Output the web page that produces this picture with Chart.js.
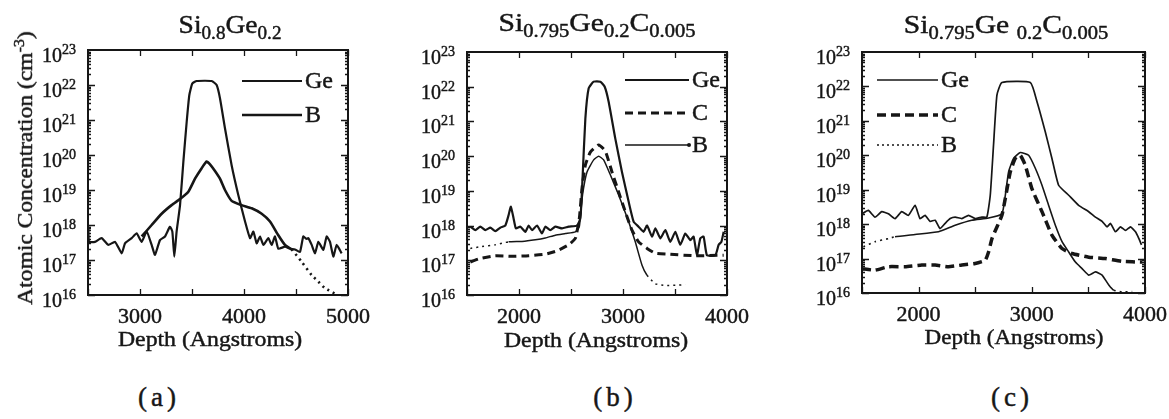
<!DOCTYPE html>
<html>
<head>
<meta charset="utf-8">
<script src="https://cdn.jsdelivr.net/npm/chart.js@4.4.1/dist/chart.umd.min.js"></script>
<style>
  body { margin: 0; background: #fff; width: 1169px; height: 419px; position: relative; overflow: hidden;
         font-family: 'Liberation Serif', 'Times New Roman', serif; color: #161616; }
  canvas { position: absolute; top: 0; }
  .lbl { position: absolute; white-space: nowrap; line-height: 1; -webkit-text-stroke: 0.45px #161616; }
  .title { font-size: 26px; }
  .title sub { font-size: 18px; vertical-align: -6px; line-height: 0; }
  .xt { font-size: 22px; }
  .panel { font-size: 27px; letter-spacing: 4px; }
  .yt { font-size: 22px; }
  .yt sup { font-size: 15px; vertical-align: 8px; line-height: 0; }
</style>
</head>
<body>
<canvas id="chartA" width="380" height="330" style="left:0px"></canvas>
<canvas id="chartB" width="370" height="330" style="left:390px"></canvas>
<canvas id="chartC" width="399" height="330" style="left:770px"></canvas>

<div class="lbl title" style="left:230px;top:12px;transform:translateX(-50%) scaleX(1.06)">Si<sub>0.8</sub>Ge<sub>0.2</sub></div>
<div class="lbl title" style="left:597px;top:10px;transform:translateX(-50%) scaleX(1.14)">Si<sub>0.795</sub>Ge<sub>0.2</sub>C<sub>0.005</sub></div>
<div class="lbl title" style="left:1006px;top:12px;transform:translateX(-50%) scaleX(1.14)">Si<sub>0.795</sub>Ge <sub>0.2</sub>C<sub>0.005</sub></div>

<div class="lbl yt" style="left:25px;top:168px;transform:translate(-50%,-50%) rotate(-90deg) scaleX(1.07)">Atomic Concentration (cm<sup>-3</sup>)</div>

<div class="lbl xt" style="left:210px;top:328px;transform:translateX(-50%) scaleX(1.08)">Depth (Angstroms)</div>
<div class="lbl xt" style="left:596px;top:329px;transform:translateX(-50%) scaleX(1.08)">Depth (Angstroms)</div>
<div class="lbl xt" style="left:1014px;top:326px;transform:translateX(-50%) scaleX(1.05)">Depth (Angstroms)</div>

<div class="lbl panel" style="left:159px;top:384px;transform:translateX(-50%)">(a)</div>
<div class="lbl panel" style="left:615px;top:384px;transform:translateX(-50%)">(b)</div>
<div class="lbl panel" style="left:1012px;top:384px;transform:translateX(-50%)">(c)</div>

<script>
// SIMS depth profiles, depth in Angstroms, concentration in atoms/cm^3

// (a) Si0.8Ge0.2
const depthA_Ge = [2503, 2510, 2567, 2631, 2695, 2760, 2824, 2856, 2920, 2968, 3016, 3064, 3112, 3144, 3192, 3240, 3288, 3311, 3330, 3352,
                   3385, 3417, 3449, 3474, 3503, 3545, 3689, 3737, 3769, 3817, 3881, 3945, 4010, 4058, 4090, 4122, 4154, 4186, 4234, 4266,
                   4298, 4330, 4394, 4442, 4490, 4538, 4570, 4600, 4619, 4651, 4683, 4715, 4763, 4795, 4827, 4859, 4891, 4939];
const concA_Ge = [8.9e17, 3.3e17, 3.3e17, 4.2e17, 2.7e17, 3.3e17, 1.55e17, 3.0e17, 4.2e17, 5.8e17, 3.3e17, 6.5e17, 2.7e17, 1.4e17, 3.7e17, 4.7e17, 8.9e17, 6.5e17, 1.25e17, 6.5e17,
                  3.7e18, 6.5e19, 8.9e20, 5.1e21, 1.1e22, 1.3e22, 1.3e22, 1.0e22, 4.2e21, 5.8e20, 5.1e19, 7.2e18, 1.26e18, 4.2e17, 6.5e17, 3.0e17, 4.7e17, 2.7e17, 4.2e17, 2.7e17,
                  4.7e17, 2.1e17, 2.4e17, 2.1e17, 2.0e17, 1.7e17, 4.7e17, 4.0e17, 4.2e17, 2.7e17, 1.55e17, 3.3e17, 1.95e17, 4.7e17, 3.3e17, 1.25e17, 2.7e17, 1.55e17];
const depthA_B = [3016, 3112, 3208, 3304, 3385, 3465, 3529, 3593, 3641, 3673, 3721, 3769, 3817, 3881, 3977, 4074, 4170, 4250, 4330, 4394,
                  4458, 4554, 4651, 4715, 4779, 4830, 4870];
const concA_B = [4.7e17, 1.0e18, 2.1e18, 3.7e18, 5.5e18, 8.9e18, 2.1e19, 4.2e19, 6.5e19, 5.4e19, 3.5e19, 2.1e19, 1.0e19, 4.9e18, 3.7e18, 3.0e18, 2.1e18, 1.26e18, 5.1e17, 2.7e17,
                 2.0e17, 8.9e16, 3.7e16, 2.4e16, 1.55e16, 1.3e16, 1.1e16];
const ticksA = [3000, 4000, 5000];

// (b) Si0.795Ge0.2C0.005
const depthB_Ge = [1532, 1580, 1628, 1676, 1724, 1772, 1820, 1868, 1900, 1922, 1948, 1970, 2013, 2061, 2093, 2125, 2173, 2221, 2253, 2301,
                   2349, 2414, 2478, 2558, 2590, 2611, 2638, 2670, 2718, 2782, 2824, 2862, 2926, 2990, 3054, 3102, 3150, 3198, 3231, 3279,
                   3311, 3359, 3407, 3455, 3503, 3551, 3599, 3647, 3679, 3711, 3743, 3775, 3807, 3888, 3920, 3946, 3968];
const concB_Ge = [9.3e17, 7.4e17, 9.3e17, 7.4e17, 8.7e17, 6.9e17, 8.7e17, 1.0e18, 2.0e18, 3.5e18, 1.6e18, 8.3e17, 9.3e17, 6.6e17, 1.0e18, 7.4e17, 1.0e18, 5.9e17, 9.3e17, 7.4e17,
                  9.3e17, 8.3e17, 9.3e17, 1.0e18, 1.6e18, 2.3e19, 1.2e21, 9.0e21, 1.4e22, 1.4e22, 1.0e22, 3.7e21, 3.2e20, 3.5e19, 4.9e18, 1.3e18, 9.3e17, 6.6e17, 1.0e18, 4.8e17,
                  8.3e17, 4.3e17, 7.4e17, 3.4e17, 6.6e17, 2.8e17, 5.9e17, 3.8e17, 4.8e17, 1.4e17, 4.3e17, 4.8e17, 1.4e17, 1.4e17, 2.8e17, 3.4e17, 6.6e17];
const depthB_C = [1532, 1612, 1772, 1933, 2093, 2253, 2349, 2414, 2478, 2542, 2580, 2606, 2638, 2686, 2766, 2830, 2894, 2958, 3022, 3086,
                  3150, 3231, 3311, 3439, 3695, 3968];
const concB_C = [8.9e16, 1.1e17, 1.35e17, 1.3e17, 1.35e17, 1.5e17, 1.8e17, 2.2e17, 2.8e17, 4.3e17, 1.6e18, 1.2e19, 5.5e19, 1.3e20, 2.1e20, 1.4e20, 3.5e19, 9.3e18, 2.5e18, 7.4e17,
                 3.4e17, 2.2e17, 1.6e17, 1.5e17, 1.35e17, 1.4e17];
const depthB_B = [1532, 1644, 1772, 1900, 2029, 2157, 2253, 2349, 2446, 2542, 2580, 2611, 2654, 2718, 2766, 2814, 2878, 2958, 3054, 3118,
                  3183, 3231, 3311, 3407, 3503, 3599];
const concB_B = [2.2e17, 2.5e17, 2.8e17, 3.4e17, 3.5e17, 3.9e17, 4.4e17, 5.3e17, 5.9e17, 6.6e17, 9.3e17, 7.6e18, 3.5e19, 7.8e19, 1.0e20, 7.8e19, 2.9e19, 7.6e18, 1.3e18, 3.4e17,
                 7.2e16, 3.7e16, 2.1e16, 1.9e16, 1.9e16, 2.0e16];
const ticksB = [2000, 3000, 4000];

// (c) Si0.795Ge0.2C0.005
const depthC_Ge = [1500, 1556, 1615, 1674, 1733, 1792, 1851, 1910, 1969, 2013, 2057, 2102, 2146, 2190, 2234, 2279, 2323, 2382, 2441, 2500,
                   2559, 2603, 2633, 2662, 2692, 2736, 2987, 3046, 3119, 3178, 3237, 3326, 3414, 3503, 3562, 3621, 3665, 3695, 3739, 3783,
                   3828, 3872, 3916, 3946, 3969];
const concC_Ge = [2.0e18, 2.5e18, 1.6e18, 2.3e18, 2.0e18, 1.45e18, 2.3e18, 1.8e18, 3.5e18, 1.45e18, 1.8e18, 1.2e18, 1.3e18, 7.4e17, 1.05e18, 1.45e18, 1.6e18, 1.45e18, 1.8e18, 1.45e18,
                  1.6e18, 1.6e18, 6.9e18, 2.0e20, 5.6e21, 1.3e22, 1.3e22, 3.6e21, 4.8e20, 8.1e19, 1.35e19, 6.9e18, 3.5e18, 2.3e18, 1.6e18, 1.2e18, 8.3e17, 1.05e18, 6.0e17, 8.3e17,
                  6.6e17, 8.3e17, 6.0e17, 3.8e17, 2.5e17];
const depthC_C = [1500, 1615, 1733, 1880, 2028, 2146, 2264, 2382, 2500, 2588, 2618, 2648, 2692, 2736, 2766, 2810, 2854, 2898, 2942, 3001,
                  3090, 3178, 3267, 3355, 3503, 3650, 3798, 3975];
const concC_C = [5.1e16, 4.6e16, 5.8e16, 5.8e16, 6.5e16, 6.5e16, 5.8e16, 6.5e16, 7.2e16, 8.9e16, 1.55e17, 3.8e17, 8.3e17, 1.8e18, 5.6e18, 3.3e19, 8.1e19, 1.0e20, 5.2e19, 1.07e19,
                 2.3e18, 4.8e17, 1.95e17, 1.4e17, 1.1e17, 1.0e17, 8.3e16, 7.9e16];
const depthC_B = [1512, 1615, 1733, 1792, 1969, 2176, 2323, 2470, 2618, 2736, 2766, 2795, 2839, 2898, 2972, 3031, 3090, 3149, 3208, 3267,
                  3326, 3385, 3444, 3503, 3562, 3621, 3680, 3724, 3798, 3887];
const concC_B = [2.2e17, 3.1e17, 3.8e17, 4.3e17, 5.0e17, 6.0e17, 9.3e17, 1.3e18, 1.5e18, 2.0e18, 6.9e18, 3.3e19, 8.1e19, 1.2e20, 1.0e20, 4.2e19, 1.35e19, 3.5e18, 9.3e17, 3.1e17,
                 1.55e17, 7.9e16, 5.1e16, 3.3e16, 4.1e16, 3.3e16, 1.7e16, 1.2e16, 1.07e16, 1.1e16];
const ticksC = [2000, 3000, 4000];

const decades = [1e16, 1e17, 1e18, 1e19, 1e20, 1e21, 1e22, 1e23];

const INK = '#161616';
const FONT = '"Liberation Serif", "Times New Roman", serif';

const toPoints = (xs, ys) => xs.map((x, i) => ({ x, y: ys[i] }));

// dotted where the profile runs outside [from, to]
const dottedOutside = (from, to) => ({
  borderDash: c => (c.p0.parsed.x < from || c.p1.parsed.x > to) ? [2, 4] : undefined
});

// slightly heavier glyphs, like the printed figure
function inkText(ctx, text, x, y) {
  ctx.fillText(text, x, y);
  ctx.lineWidth = 0.45;
  ctx.strokeText(text, x, y);
}

// boxed frame with inward ticks, 10^n labels on the left and depth labels below
const frameTicks = {
  id: 'frameTicks',
  afterDatasetsDraw(chart) {
    const { ctx, chartArea: a } = chart;
    const x = chart.scales.x, y = chart.scales.y;
    ctx.save();
    ctx.strokeStyle = INK;
    ctx.lineWidth = 2;
    ctx.strokeRect(a.left, a.top, a.right - a.left, a.bottom - a.top);

    ctx.lineWidth = 1.3;
    ctx.beginPath();
    for (let v = x.min; v <= x.max + 1; v += 500) {
      const px = Math.round(x.getPixelForValue(v)) + 0.5;
      ctx.moveTo(px, a.top); ctx.lineTo(px, a.top + 6);
      ctx.moveTo(px, a.bottom); ctx.lineTo(px, a.bottom - 6);
    }
    decades.slice(0, -1).forEach(d => {
      for (let m = 1; m < 10; m++) {
        const py = Math.round(y.getPixelForValue(d * m)) + 0.5;
        const len = m === 1 ? 7 : 3;
        ctx.moveTo(a.left, py); ctx.lineTo(a.left + len, py);
        ctx.moveTo(a.right, py); ctx.lineTo(a.right - len, py);
      }
    });
    ctx.stroke();

    ctx.fillStyle = INK;
    ctx.textBaseline = 'alphabetic';
    decades.forEach(d => {
      const py = y.getPixelForValue(d);
      ctx.font = '20px ' + FONT;
      ctx.textAlign = 'right';
      inkText(ctx, '10', a.left - 26, py + 12);
      ctx.font = '14px ' + FONT;
      ctx.textAlign = 'left';
      inkText(ctx, String(Math.round(Math.log10(d))), a.left - 26, py + 4);
    });

    ctx.font = '22px ' + FONT;
    ctx.textAlign = 'center';
    x.ticks.forEach(t => {
      inkText(ctx, String(t.value), x.getPixelForValue(t.value), a.bottom + 28);
    });
    ctx.restore();
  }
};

// legend drawn inside the plot box
const inlineLegend = {
  id: 'inlineLegend',
  afterDatasetsDraw(chart, args, o) {
    if (!o.items) return;
    const ctx = chart.ctx;
    ctx.save();
    ctx.strokeStyle = INK;
    ctx.fillStyle = INK;
    o.items.forEach(it => {
      const ds = chart.data.datasets[it.ds];
      ctx.lineWidth = it.width || ds.borderWidth;
      ctx.setLineDash(it.dash || []);
      ctx.beginPath();
      ctx.moveTo(o.x0, it.y);
      ctx.lineTo(o.x1, it.y);
      ctx.stroke();
      ctx.setLineDash([]);
      if (it.dot) {
        ctx.beginPath();
        ctx.arc(o.x1, it.y, 2, 0, Math.PI * 2);
        ctx.fill();
      }
      ctx.font = '24px ' + FONT;
      ctx.textAlign = 'left';
      ctx.textBaseline = 'middle';
      inkText(ctx, ds.label, o.x1 + 3, it.y + 1);
    });
    ctx.restore();
  }
};

function makePanel(id, cfg) {
  new Chart(document.getElementById(id), {
    type: 'line',
    data: { datasets: cfg.datasets },
    options: {
      responsive: false,
      animation: false,
      devicePixelRatio: 1,
      layout: { padding: { top: cfg.top, right: cfg.right, left: 0, bottom: 0 } },
      elements: { point: { radius: 0 }, line: { borderColor: INK, fill: false, tension: 0.15 } },
      plugins: {
        legend: { display: false },
        tooltip: { enabled: false },
        inlineLegend: cfg.legend
      },
      scales: {
        x: {
          type: 'linear',
          min: cfg.xMin,
          max: cfg.xMax,
          grid: { display: false, drawTicks: false },
          border: { display: false },
          ticks: { display: false },
          afterBuildTicks: s => { s.ticks = cfg.xTicks.map(value => ({ value })); },
          afterFit: s => { s.height = cfg.bottom; }
        },
        y: {
          type: 'logarithmic',
          min: 1e16,
          max: 1e23,
          grid: { display: false, drawTicks: false },
          border: { display: false },
          ticks: { display: false },
          afterFit: s => { s.width = cfg.left; }
        }
      }
    },
    plugins: [frameTicks, inlineLegend]
  });
}

makePanel('chartA', {
  xMin: 2500, xMax: 5000, xTicks: ticksA,
  left: 88, top: 50, right: 32, bottom: 35,
  datasets: [
    { label: 'Ge', data: toPoints(depthA_Ge, concA_Ge), borderWidth: 2.2 },
    { label: 'B', data: toPoints(depthA_B, concA_B), borderWidth: 2.6, segment: dottedOutside(0, 4460) }
  ],
  legend: { x0: 242, x1: 302, items: [{ ds: 0, y: 81 }, { ds: 1, y: 115 }] }
});

makePanel('chartB', {
  xMin: 1500, xMax: 4000, xTicks: ticksB,
  left: 77, top: 52, right: 33, bottom: 35,
  datasets: [
    { label: 'Ge', data: toPoints(depthB_Ge, concB_Ge), borderWidth: 2.2 },
    { label: 'C', data: toPoints(depthB_C, concB_C), borderWidth: 3, borderDash: [8, 5] },
    { label: 'B', data: toPoints(depthB_B, concB_B), borderWidth: 1.5, segment: dottedOutside(1900, 3240) }
  ],
  legend: { x0: 235, x1: 299, items: [{ ds: 0, y: 80 }, { ds: 1, y: 113, dash: [8, 5] }, { ds: 2, y: 145, dot: true }] }
});

makePanel('chartC', {
  xMin: 1500, xMax: 4000, xTicks: ticksC,
  left: 92, top: 52, right: 24, bottom: 37,
  datasets: [
    { label: 'Ge', data: toPoints(depthC_Ge, concC_Ge), borderWidth: 1.7 },
    { label: 'C', data: toPoints(depthC_C, concC_C), borderWidth: 3.5, borderDash: [9, 5] },
    { label: 'B', data: toPoints(depthC_B, concC_B), borderWidth: 1.6, segment: dottedOutside(1790, 3730) }
  ],
  legend: { x0: 107, x1: 168, items: [{ ds: 0, y: 80 }, { ds: 1, y: 115, dash: [9, 5] }, { ds: 2, y: 145, dash: [2, 3] }] }
});
</script>
</body>
</html>
